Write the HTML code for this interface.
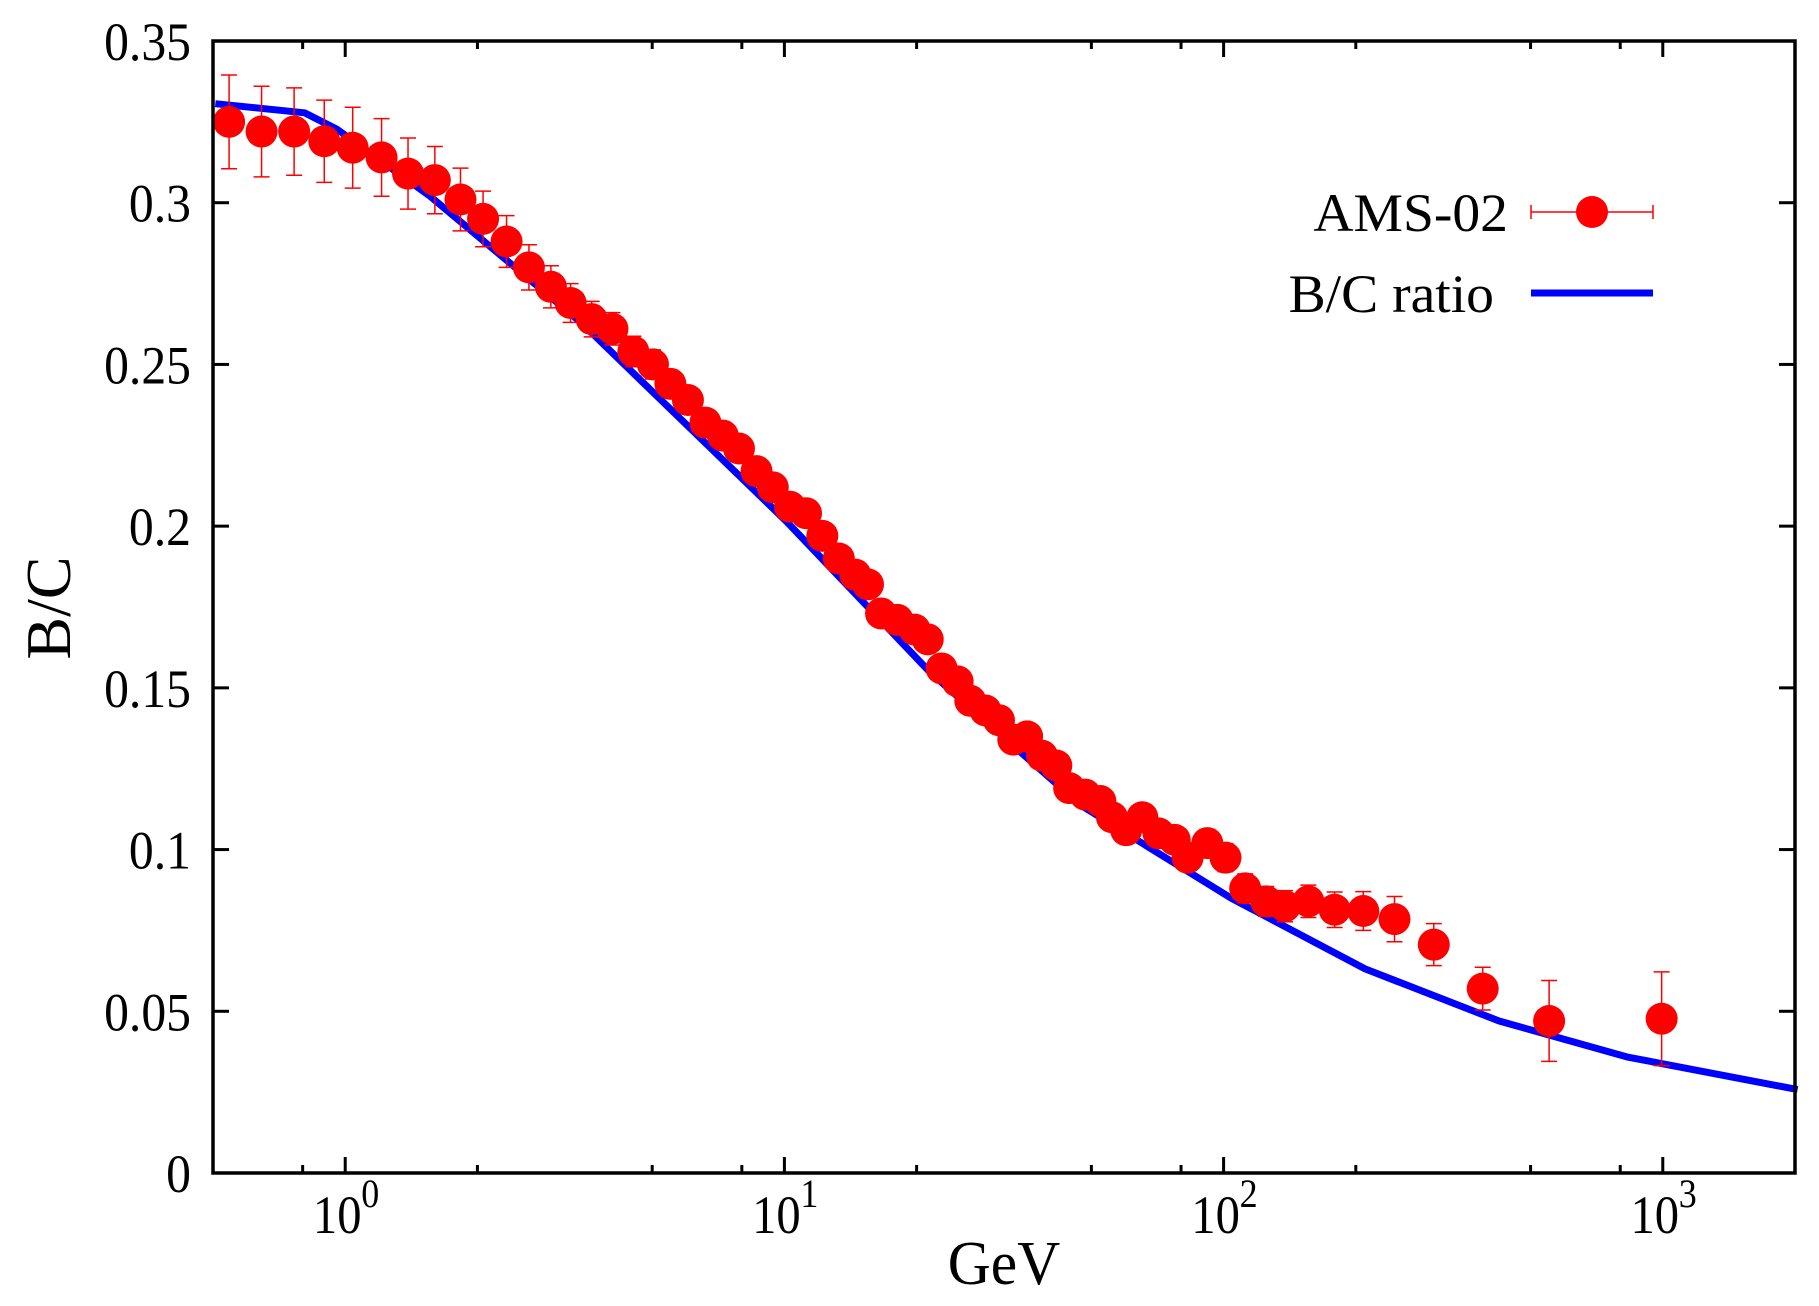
<!DOCTYPE html>
<html><head><meta charset="utf-8"><style>
html,body{margin:0;padding:0;background:#fff;}
svg{display:block;font-family:"Liberation Serif",serif;}
</style></head><body>
<svg id="chart" width="1819" height="1306" viewBox="0 0 1819 1306" xmlns="http://www.w3.org/2000/svg">
<g id="gTicks"></g>
<g id="gLine"></g>
<g id="gData"></g>
<rect x="213" y="41" width="1582" height="1132" fill="none" stroke="#000" stroke-width="3.5"/>
<g id="gLabels"></g>
<text transform="translate(70,608) rotate(-90) scale(1,1)" text-anchor="middle" font-size="64">B/C</text>
<text transform="translate(1004,1284) scale(0.96,1)" text-anchor="middle" font-size="62">GeV</text>
<g>
<text transform="translate(1508,231) scale(1.03,1)" text-anchor="end" font-size="54">AMS-02</text>
<line x1="1531" y1="212" x2="1653" y2="212" stroke="#f00" stroke-width="1.5"/>
<line x1="1531" y1="205" x2="1531" y2="219" stroke="#f00" stroke-width="1.5"/>
<line x1="1653" y1="205" x2="1653" y2="219" stroke="#f00" stroke-width="1.5"/>
<circle cx="1592" cy="212" r="16" fill="#f00"/>
<text transform="translate(1494,312) scale(1.03,1)" text-anchor="end" font-size="54">B/C ratio</text>
<line x1="1531" y1="293" x2="1653" y2="293" stroke="#0000ff" stroke-width="7"/>
</g>
</svg>
<script>
const dataE = [0.544,0.645,0.765,0.896,1.04,1.21,1.39,1.60,1.83,2.06,2.33,2.62,2.94,3.26,3.64,4.06,4.53,5.02,5.50,6.03,6.61,7.24,7.88,8.64,9.41,10.3,11.2,12.2,13.3,14.5,15.5,16.6,18.1,19.8,21.2,22.8,24.8,26.5,28.7,30.8,33.2,35.7,38.6,41.6,44.5,48.4,52.4,55.7,60.0,65.3,71.1,77.4,82.8,91.8,101,112,125,138,156,179,208,245,301,389,551,994];
const dataBC = [0.325,0.322,0.322,0.319,0.317,0.314,0.309,0.307,0.301,0.295,0.288,0.280,0.274,0.269,0.264,0.261,0.254,0.250,0.244,0.239,0.232,0.228,0.224,0.217,0.212,0.206,0.204,0.197,0.190,0.185,0.182,0.173,0.171,0.168,0.165,0.156,0.152,0.146,0.143,0.140,0.134,0.135,0.129,0.126,0.119,0.117,0.115,0.110,0.106,0.110,0.105,0.103,0.0975,0.102,0.0975,0.088,0.084,0.0825,0.084,0.0814,0.081,0.0785,0.0706,0.057,0.047,0.0477];
const dataErr = [0.0145,0.014,0.0135,0.0127,0.0125,0.012,0.011,0.0104,0.0097,0.0086,0.008,0.007,0.0065,0.006,0.0055,0.005,0.0047,0.0045,0.0042,0.004,0.0038,0.0036,0.0035,0.0034,0.0033,0.0033,0.0032,0.0032,0.0032,0.0032,0.0032,0.0032,0.0032,0.0032,0.0032,0.0032,0.0032,0.0032,0.0032,0.0032,0.0033,0.0033,0.0033,0.0034,0.0034,0.0035,0.0035,0.0036,0.0036,0.0037,0.0038,0.0039,0.004,0.0042,0.0043,0.0045,0.0046,0.0048,0.005,0.0055,0.006,0.007,0.0065,0.0066,0.0125,0.0145];
const lineE = [0.506,0.808,0.958,1.56,3.44,10.1,21.4,47.3,104,210,424,828,2027];
const lineBC = [0.3306,0.3278,0.3227,0.302,0.263,0.2015,0.155,0.1137,0.085,0.0631,0.047,0.0359,0.0258];
const yTicks = [0,0.05,0.1,0.15,0.2,0.25,0.3,0.35];
const yTickLabels = ["0","0.05","0.1","0.15","0.2","0.25","0.3","0.35"];
const xDecades = [0,1,2,3];
const xMinorMult = [2,5,8];

const NS="http://www.w3.org/2000/svg";
const X0=213,X1=1795,Y0=1173,Y1=41;
const lxMin=Math.log10(0.5),lxMax=Math.log10(2000);
function sx(e){return X0+(Math.log10(e)-lxMin)/(lxMax-lxMin)*(X1-X0);}
function sy(v){return Y0-(v/0.35)*(Y0-Y1);}
function mk(tag,attrs,parent){const el=document.createElementNS(NS,tag);for(const k in attrs)el.setAttribute(k,attrs[k]);parent.appendChild(el);return el;}
const gT=document.getElementById('gTicks'),gL=document.getElementById('gLabels'),gLine=document.getElementById('gLine'),gD=document.getElementById('gData');

yTicks.forEach((v,i)=>{
  const y=sy(v);
  let t=mk('line',{x1:X0,y1:y,x2:X0+16,y2:y,stroke:'#000','stroke-width':3},gT);
  
  
  t=mk('line',{x1:X1-16,y1:y,x2:X1,y2:y,stroke:'#000','stroke-width':3},gT);
  
  
  const tx=mk('text',{transform:`translate(191,${y+19}) scale(0.92,1)`,'text-anchor':'end','font-size':54},gL);
  tx.textContent=yTickLabels[i];
  
  
});
for(let d=-1;d<=3;d++){
  [1].concat(xMinorMult).forEach(m=>{
    const e=m*Math.pow(10,d);
    if(e<=0.5||e>=2000)return;
    const x=sx(e),len=m===1?16:8;
    let t=mk('line',{x1:x,y1:Y0,x2:x,y2:Y0-len,stroke:'#000','stroke-width':3},gT);
    
    
    t=mk('line',{x1:x,y1:Y1,x2:x,y2:Y1+len,stroke:'#000','stroke-width':3},gT);
    
    
  });
}
xDecades.forEach(d=>{
  const x=sx(Math.pow(10,d));
  const tx=mk('text',{transform:`translate(${x-8},1233) scale(0.9,1)`,'text-anchor':'middle','font-size':54},gL);
  tx.textContent='10';
  
  
  const sp=mk('text',{transform:`translate(${x+16},1207) scale(0.9,1)`,'font-size':40},gL);
  sp.textContent=String(d);
  
  
});

const pts=lineE.map((e,i)=>sx(e).toFixed(1)+','+sy(lineBC[i]).toFixed(1)).join(' ');
const pl=mk('polyline',{points:pts,fill:'none',stroke:'#0000ff','stroke-width':7,'stroke-linejoin':'round'},gLine);



dataE.forEach((e,i)=>{
  const x=sx(e),y=sy(dataBC[i]),yt=sy(dataBC[i]+dataErr[i]),yb=sy(dataBC[i]-dataErr[i]);
  let l=mk('line',{x1:x,y1:yt,x2:x,y2:yb,stroke:'#f00','stroke-width':1.5},gD);
  
  
  [yt,yb].forEach(yy=>{
    const c=mk('line',{x1:x-8,y1:yy,x2:x+8,y2:yy,stroke:'#f00','stroke-width':1.5},gD);
    
    
  });
  const ci=mk('circle',{cx:x,cy:y,r:16,fill:'#f00'},gD);
  
  
});
</script>
</body></html>
